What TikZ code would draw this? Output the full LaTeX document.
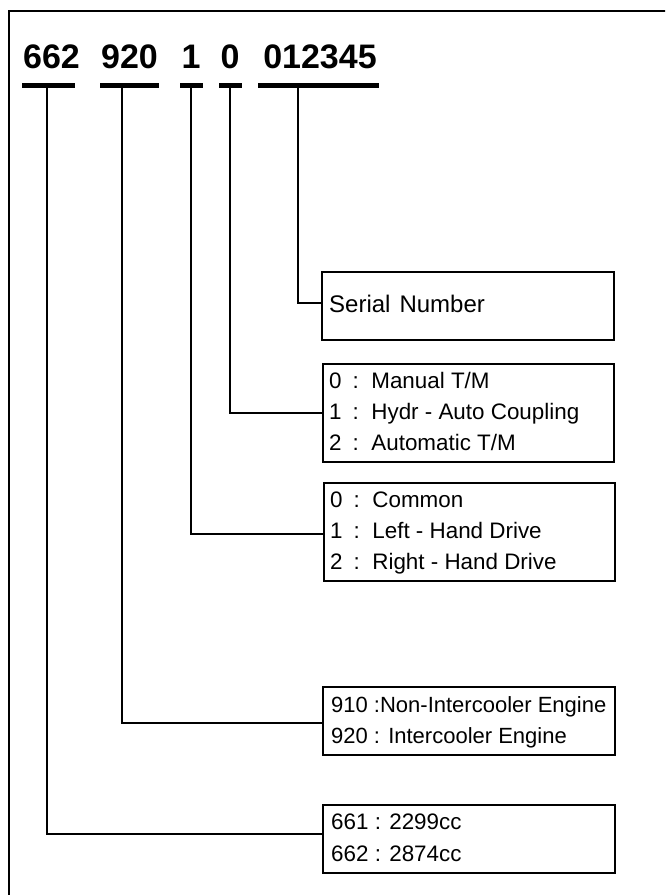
\documentclass[tikz,border=0pt]{standalone}
\usepackage{fontspec}
\setmainfont{Liberation Sans}
\begin{document}
\begin{tikzpicture}[x=1pt,y=-1pt,
  num/.style={font=\fontsize{34}{34}\selectfont\bfseries, anchor=base, inner sep=0pt},
  bar/.style={fill=black, inner sep=0pt, minimum height=5pt},
  box/.style={draw, line width=2.4pt, anchor=north west, inner sep=0pt},
  lbl/.style={font=\fontsize{22}{22}\selectfont, anchor=base west, inner sep=0pt},
  opt/.style={lbl, font=\fontsize{22.4}{22.4}\selectfont},
  conn/.style={line width=1.9pt}]
\useasboundingbox (0,0) rectangle (665,895);
\begin{scope}
\clip (0,0) rectangle (665,895);
\draw[line width=2.5pt] (9,905) -- (9,11) -- (675,11);
\end{scope}
% number groups
\node[num] (n1) at (51.5,68) {662};
\node[num] (n2) at (129.5,68) {920};
\node[num] (n3) at (191,68) {1};
\node[num] (n4) at (230,68) {0};
\node[num] (n5) at (320,68) {012345};
% bars
\node[bar, minimum width=53pt] (b1) at (48.5,85.5) {};
\node[bar, minimum width=59pt] (b2) at (129.5,85.5) {};
\node[bar, minimum width=23pt] (b3) at (191.5,85.5) {};
\node[bar, minimum width=23pt] (b4) at (230.5,85.5) {};
\node[bar, minimum width=121pt] (b5) at (318.5,85.5) {};
% boxes
\node[box, minimum width=292pt, minimum height=68pt] (serial) at (321,271) {};
\node[box, minimum width=291pt, minimum height=98pt] (tm) at (322,363) {};
\node[box, minimum width=291pt, minimum height=98pt] (drive) at (323,482) {};
\node[box, minimum width=292pt, minimum height=68pt] (eng) at (322,686) {};
\node[box, minimum width=292pt, minimum height=68pt] (cc) at (322,804) {};
% texts
\node[lbl, font=\fontsize{24}{24}\selectfont] (t0) at (329,312) {Serial\hspace{9pt}Number};
\node[opt] (t1) at (329,388) {0\hspace{11pt}:\hspace{12.5pt}Manual T/M};
\node[opt] (t2) at (329,419) {1\hspace{11pt}:\hspace{12.5pt}Hydr - Auto Coupling};
\node[opt] (t3) at (329,450) {2\hspace{11pt}:\hspace{12.5pt}Automatic T/M};
\node[opt] (t4) at (330,507) {0\hspace{11pt}:\hspace{12.5pt}Common};
\node[opt] (t5) at (330,538) {1\hspace{11pt}:\hspace{12.5pt}Left - Hand Drive};
\node[opt] (t6) at (330,569) {2\hspace{11pt}:\hspace{12.5pt}Right - Hand Drive};
\node[lbl] (t7) at (331,712) {910 :Non-Intercooler Engine};
\node[lbl] (t8) at (331,743) {920 : Intercooler Engine};
\node[opt] (t9) at (331,829) {661 : 2299cc};
\node[opt] (t10) at (331,861) {662 : 2874cc};
% connectors
\draw[conn] ([xshift=-20.5pt]b5.south) |- ([yshift=3pt]serial.west);
\draw[conn] ([xshift=-0.5pt]b4.south) |- (tm.west);
\draw[conn] ([xshift=-0.5pt]b3.south) |- ([yshift=-2pt]drive.west);
\draw[conn] ([xshift=-7.5pt]b2.south) |- ([yshift=-2pt]eng.west);
\draw[conn] ([xshift=-1.5pt]b1.south) |- ([yshift=5pt]cc.west);
\end{tikzpicture}
\end{document}
